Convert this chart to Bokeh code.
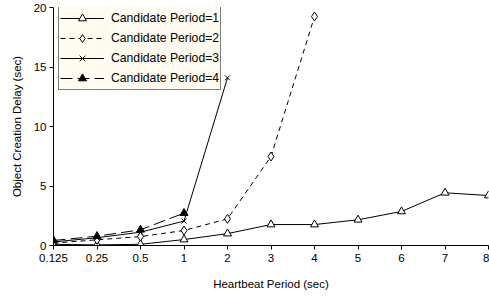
from bokeh.plotting import figure
from bokeh.models import Range1d, FixedTicker, Legend, LegendItem
from bokeh.embed import file_html
from bokeh.resources import INLINE

# Data
periods = ["0.125", "0.25", "0.5", "1", "2", "3", "4", "5", "6", "7", "8"]
cp1 = [0.1, 0.05, 0.1, 0.5, 1.0, 1.76, 1.76, 2.16, 2.86, 4.43, 4.2]
cp2 = [0.2, 0.48, 0.75, 1.26, 2.24, 7.48, 19.24]
cp3 = [0.3, 0.65, 1.12, 2.05, 14.09]
cp4 = [0.42, 0.78, 1.32, 2.72]
y_ticks = [0, 5, 10, 15, 20]

FONT = "Liberation Sans"
FS = "11.5px"

W, H = 489, 300
BL, BR, BT, BB = 53, 1, 7, 55
FRAME_H = H - BT - BB

p = figure(width=W, height=H, output_backend="svg", toolbar_location=None,
           x_range=Range1d(0, len(periods) - 1), y_range=Range1d(0, 20),
           min_border_left=BL, min_border_right=BR, min_border_top=BT, min_border_bottom=BB)
p.outline_line_color = None
p.xgrid.visible = False
p.ygrid.visible = False
p.background_fill_color = "white"

xs = list(range(len(periods)))

r1l = p.line(xs[:len(cp1)], cp1, line_color="black", line_width=1)
r1m = p.scatter(xs[:len(cp1)], cp1, marker="triangle", size=8, fill_color="white", line_color="black", line_width=1)
r2l = p.line(xs[:len(cp2)], cp2, line_color="black", line_width=1, line_dash="5 4")
r2m = p.scatter(xs[:len(cp2)], cp2, marker="diamond", size=9, fill_color="white", line_color="black", line_width=1)
r3l = p.line(xs[:len(cp3)], cp3, line_color="black", line_width=1)
r3m = p.scatter(xs[:len(cp3)], cp3, marker="x", size=7, line_color="black", line_width=1)
r4l = p.line(xs[:len(cp4)], cp4, line_color="black", line_width=1, line_dash="12 5")
r4m = p.scatter(xs[:len(cp4)], cp4, marker="triangle", size=8, fill_color="black", line_color="black", line_width=1)

legend = Legend(items=[
    LegendItem(label="Candidate Period=1", renderers=[r1l, r1m]),
    LegendItem(label="Candidate Period=2", renderers=[r2l, r2m]),
    LegendItem(label="Candidate Period=3", renderers=[r3l, r3m]),
    LegendItem(label="Candidate Period=4", renderers=[r4l, r4m]),
])
legend.location = (5, FRAME_H - 83)
legend.padding = 1
legend.spacing = 0
legend.margin = 0
legend.glyph_width = 44
legend.glyph_height = 20
legend.label_height = 20
legend.label_width = 104
legend.label_standoff = 7
legend.label_text_font = FONT
legend.label_text_font_size = "12.2px"
legend.label_text_color = "black"
legend.background_fill_color = "#FFFBF0"
legend.background_fill_alpha = 1
legend.border_line_color = "black"
legend.border_line_width = 1
p.add_layout(legend, "center")

# Axes
p.xaxis.ticker = FixedTicker(ticks=xs)
p.xaxis.major_label_overrides = {i: s for i, s in enumerate(periods)}
p.yaxis.ticker = FixedTicker(ticks=y_ticks)
for ax in (p.xaxis[0], p.yaxis[0]):
    ax.axis_line_color = "black"
    ax.major_tick_line_color = "black"
    ax.major_tick_out = 4
    ax.major_tick_in = 0
    ax.minor_tick_line_color = None
    ax.major_label_text_font = FONT
    ax.major_label_text_font_size = FS
    ax.major_label_text_color = "black"
    ax.axis_label_text_font = FONT
    ax.axis_label_text_font_size = FS
    ax.axis_label_text_font_style = "normal"
    ax.axis_label_text_color = "black"

p.xaxis.axis_label = "Heartbeat Period (sec)"
p.yaxis.axis_label = "Object Creation Delay (sec)"
p.xaxis.major_label_standoff = 4
p.xaxis.axis_label_standoff = 13
p.yaxis.major_label_standoff = 3
p.yaxis.axis_label_standoff = 8

open("out.html", "w").write(file_html(p, INLINE))
